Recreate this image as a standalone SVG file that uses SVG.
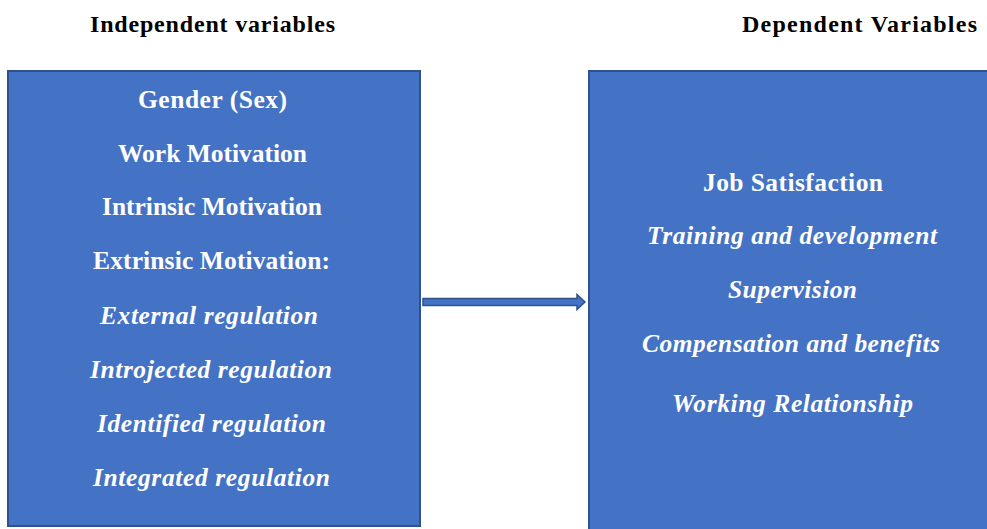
<svg xmlns="http://www.w3.org/2000/svg" width="987" height="529" viewBox="0 0 987 529">
  <style>
    .box { fill: #4472C4; stroke: #2F528F; stroke-width: 2; }
    .hdr { font-family: "Liberation Serif", "Times New Roman", serif; font-weight: bold; font-size: 24px; fill: #000000; text-anchor: middle; }
    .b { font-family: "Liberation Serif", "Times New Roman", serif; font-weight: bold; font-size: 25.5px; fill: #FFFFFF; text-anchor: middle; }
    .bi { font-family: "Liberation Serif", "Times New Roman", serif; font-weight: bold; font-style: italic; font-size: 25.5px; fill: #FFFFFF; text-anchor: middle; }
    .arrow { fill: #4472C4; stroke: #2F528F; stroke-width: 1.5; }
  </style>
  <rect width="987" height="529" fill="#FFFFFF"/>
  <g id="header-independent">
    <text class="hdr" x="212.5" y="32" textLength="245" lengthAdjust="spacing">Independent  variables</text>
  </g>
  <g id="header-dependent">
    <text class="hdr" x="859.5" y="32" textLength="235" lengthAdjust="spacing">Dependent  Variables</text>
  </g>
  <g id="independent-variables">
    <rect class="box" x="8" y="71" width="412" height="455"/>
    <text class="b" x="212.5" y="108" textLength="149" lengthAdjust="spacing">Gender  (Sex)</text>
    <text class="b" x="212.5" y="162" textLength="189" lengthAdjust="spacing">Work Motivation</text>
    <text class="b" x="212" y="215" textLength="220" lengthAdjust="spacing">Intrinsic Motivation</text>
    <text class="b" x="211.5" y="269" textLength="237" lengthAdjust="spacing">Extrinsic Motivation:</text>
    <text class="bi" x="209" y="324" textLength="218" lengthAdjust="spacing">External regulation</text>
    <text class="bi" x="211" y="378" textLength="242" lengthAdjust="spacing">Introjected regulation</text>
    <text class="bi" x="211.5" y="432" textLength="229" lengthAdjust="spacing">Identified regulation</text>
    <text class="bi" x="211.5" y="486" textLength="237" lengthAdjust="spacing">Integrated regulation</text>
  </g>
  <g id="dependent-variables">
    <rect class="box" x="589" y="71" width="410" height="470"/>
    <text class="b" x="793" y="191" textLength="180" lengthAdjust="spacing">Job Satisfaction</text>
    <text class="bi" x="792" y="244" textLength="290" lengthAdjust="spacing">Training and development</text>
    <text class="bi" x="792.5" y="298" textLength="129" lengthAdjust="spacing">Supervision</text>
    <text class="bi" x="791" y="352" textLength="298" lengthAdjust="spacing">Compensation and benefits</text>
    <text class="bi" x="792.5" y="412" textLength="241" lengthAdjust="spacing">Working Relationship</text>
  </g>
  <g id="connectors">
    <polygon class="arrow" points="423,298.5 577,298.5 577,294.5 585,302 577,309.5 577,305.5 423,305.5"/>
  </g>
</svg>
